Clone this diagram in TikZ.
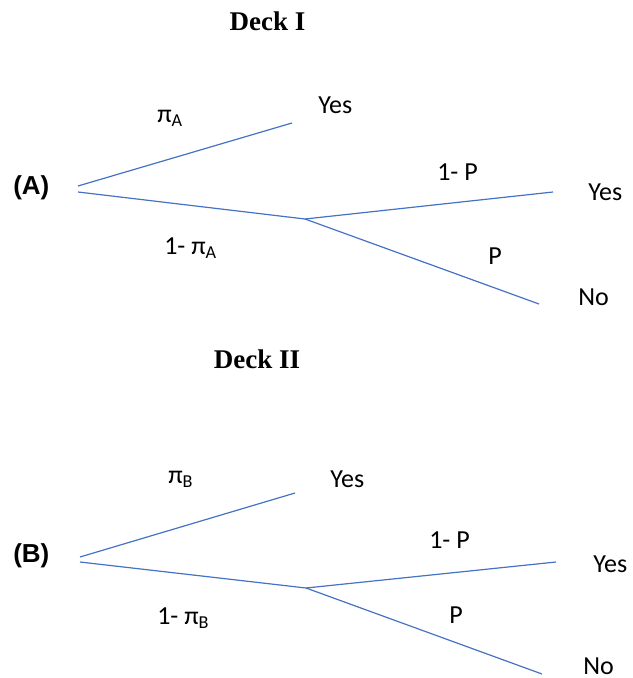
\documentclass[tikz,border=0pt]{standalone}
\usepackage{fontspec}
\setmainfont{Carlito}
\newfontfamily\titlefont{Liberation Serif}
\newfontfamily\tagfont{Liberation Sans}
\definecolor{branchblue}{RGB}{68,114,196}

\begin{document}
\begin{tikzpicture}[x=0.75pt, y=-0.75pt,
    branch/.style={branchblue, line width=0.9pt},
    lbl/.style={anchor=base west, inner sep=0pt, font=\fontsize{19.5}{23}\selectfont},
    deck/.style={anchor=base, inner sep=0pt, font=\titlefont\bfseries\fontsize{20.25}{24}\selectfont},
    tag/.style={anchor=base west, inner sep=0pt, font=\tagfont\bfseries\fontsize{19.5}{23}\selectfont}]
\useasboundingbox (0,0) rectangle (632,678);

% Deck I
\node[deck] (deckI) at (267.5,31) {Deck I};
\node[tag] (tagA) at (13,194) {(A)};
\coordinate (rootAu) at (78,186);
\coordinate (rootAl) at (78,192);
\coordinate (midA) at (305,219);
\coordinate (yesA) at (292,123);
\coordinate (yesAr) at (553,192);
\coordinate (noA) at (539,304);
\draw[branch] (rootAu) -- (yesA);
\draw[branch] (rootAl) -- (midA);
\draw[branch] (midA) -- (yesAr);
\draw[branch] (midA) -- (noA);
\node[lbl] (piA) at (157,122) {π\textsubscript{A}};
\node[lbl] (piAc) at (164,254) {1- π\textsubscript{A}};
\node[lbl] (yesAtxt) at (318,113) {Yes};
\node[lbl] (pAc) at (437,180) {1- P};
\node[lbl] (pA) at (488,264) {P};
\node[lbl] (yesArtxt) at (588,200) {Yes};
\node[lbl] (noAtxt) at (578,305) {No};

% Deck II
\node[deck] (deckII) at (257,368) {Deck II};
\node[tag] (tagB) at (13,562) {(B)};
\coordinate (rootBu) at (80,557);
\coordinate (rootBl) at (80,562);
\coordinate (midB) at (306,588);
\coordinate (yesB) at (295,493);
\coordinate (yesBr) at (556,562);
\coordinate (noB) at (542,674);
\draw[branch] (rootBu) -- (yesB);
\draw[branch] (rootBl) -- (midB);
\draw[branch] (midB) -- (yesBr);
\draw[branch] (midB) -- (noB);
\node[lbl] (piB) at (168,483) {π\textsubscript{B}};
\node[lbl] (piBc) at (157,624) {1- π\textsubscript{B}};
\node[lbl] (yesBtxt) at (330,487) {Yes};
\node[lbl] (pBc) at (429,548) {1- P};
\node[lbl] (pB) at (449,623) {P};
\node[lbl] (yesBrtxt) at (593,572) {Yes};
\node[lbl] (noBtxt) at (583,674) {No};
\end{tikzpicture}
\end{document}
